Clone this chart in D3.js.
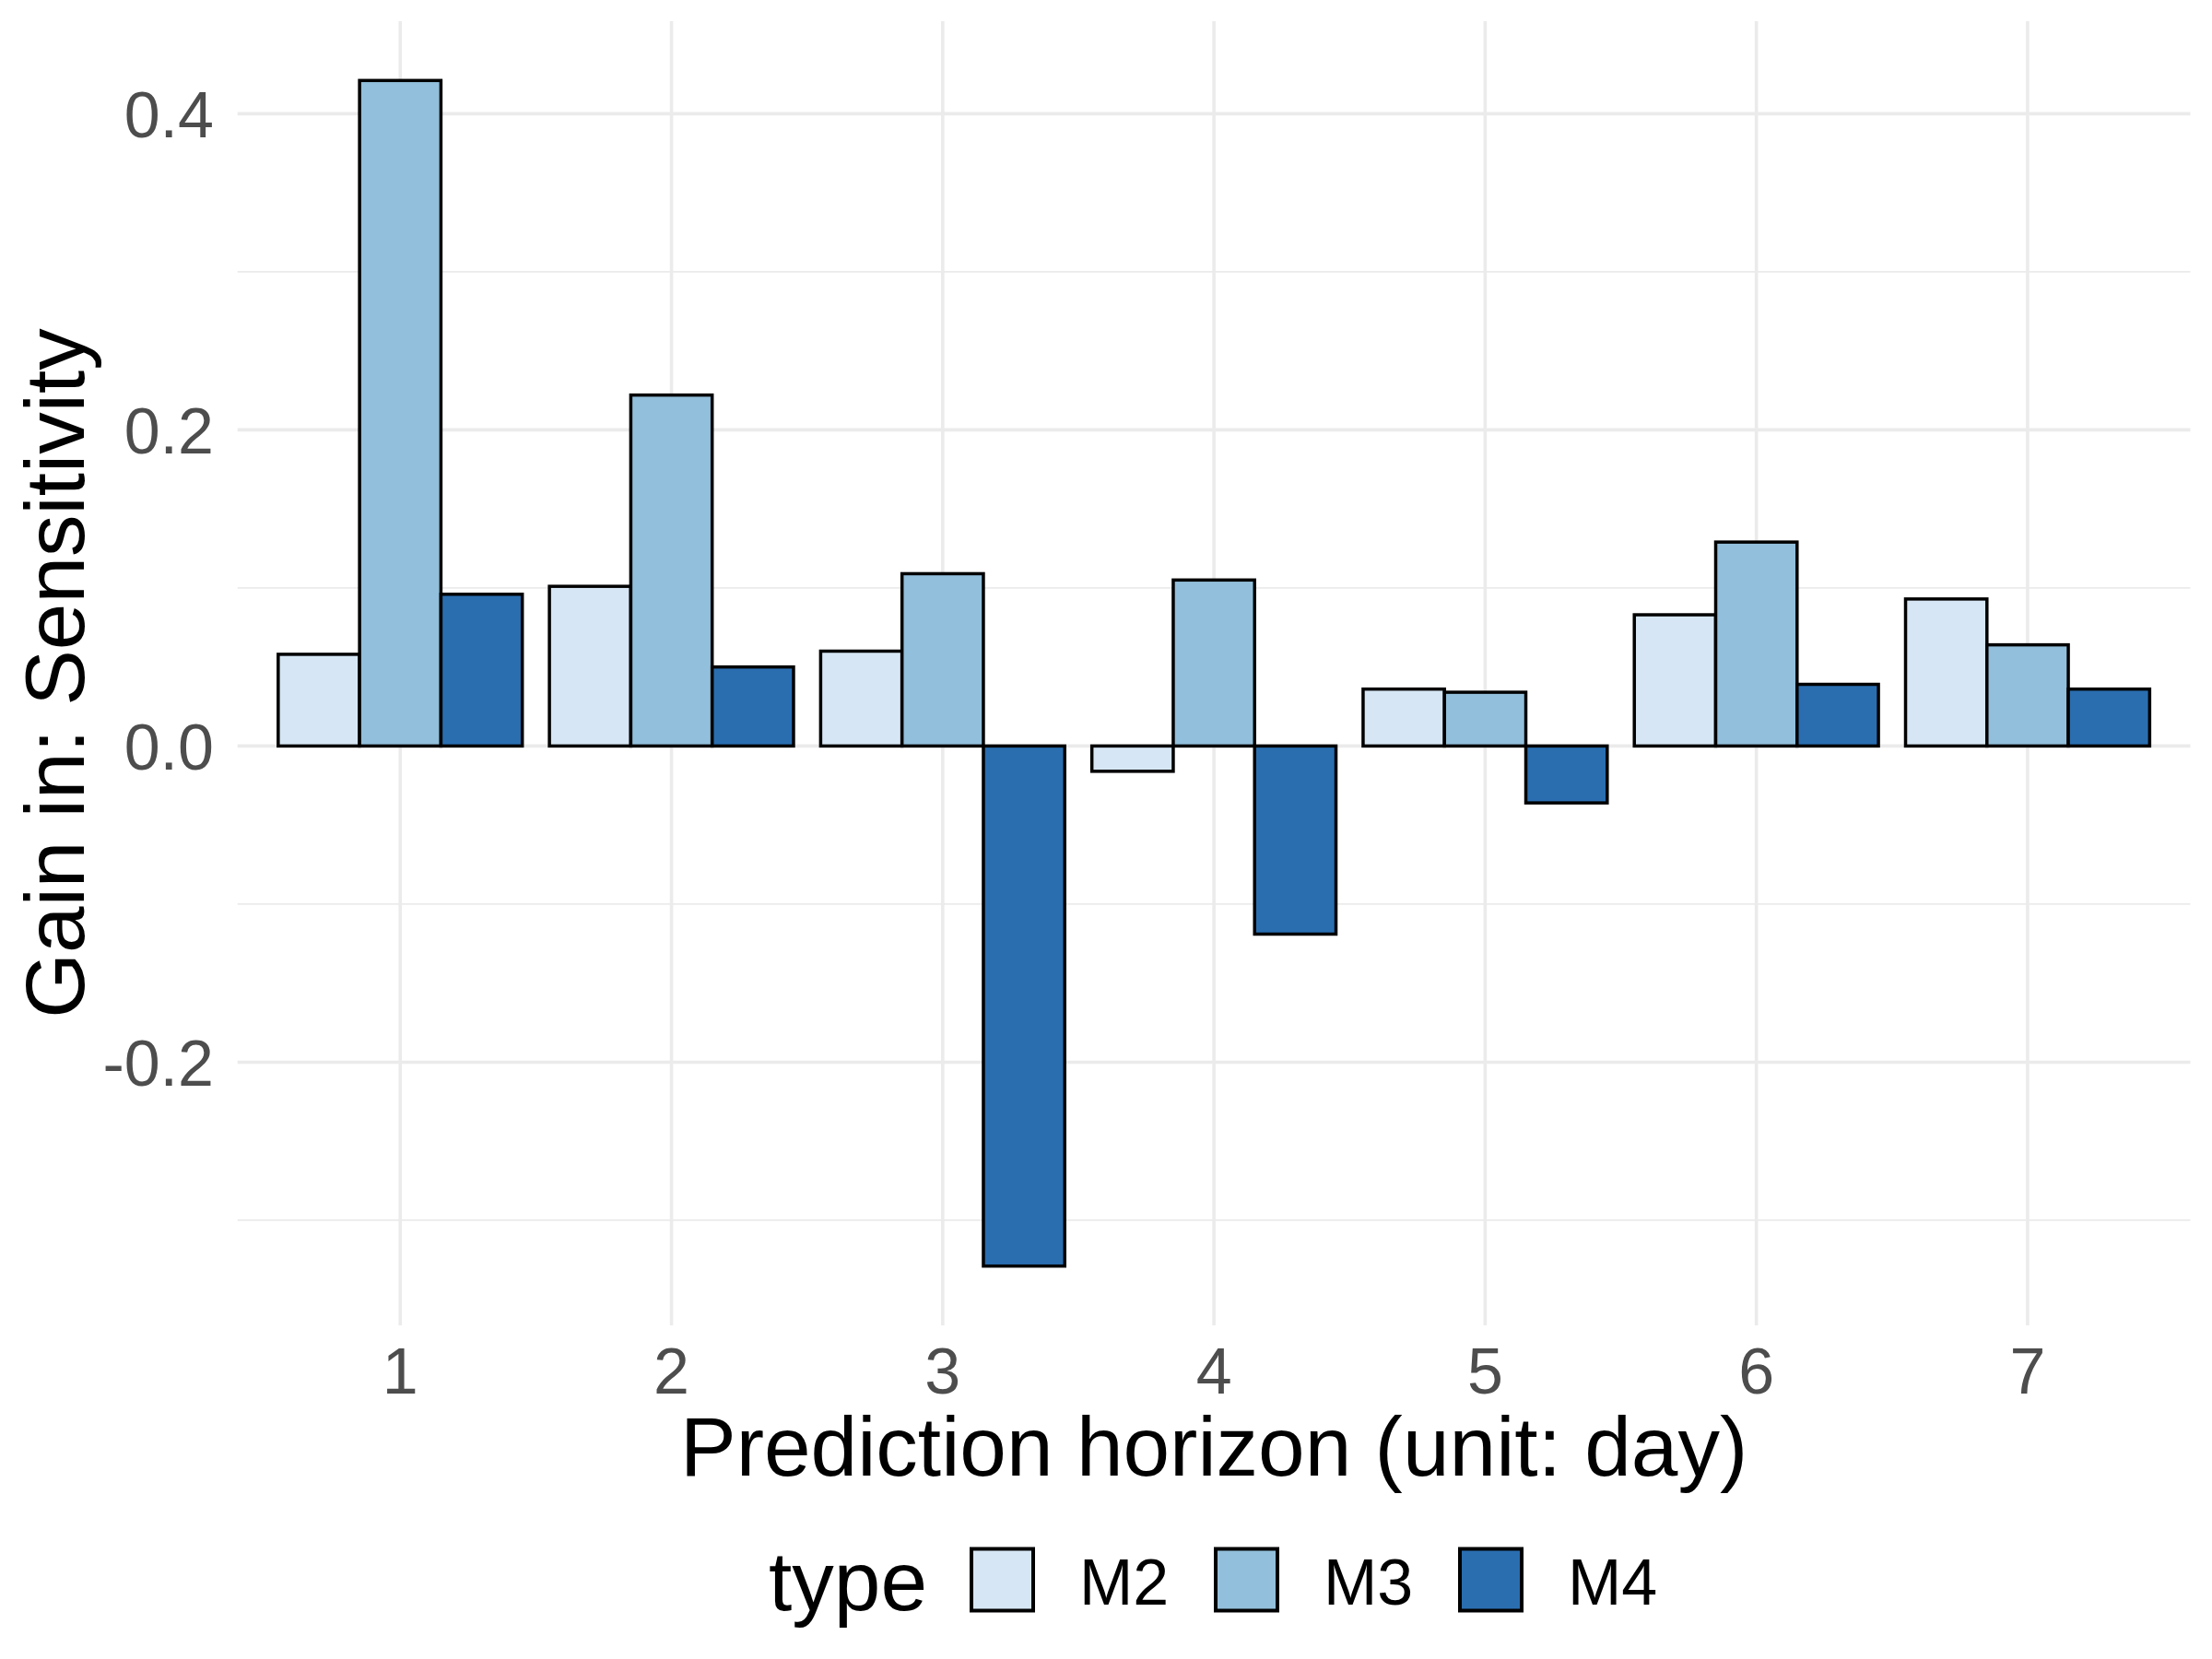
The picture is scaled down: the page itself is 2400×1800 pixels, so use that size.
<!DOCTYPE html>
<html>
<head>
<meta charset="UTF-8">
<title>Gain in: Sensitivity</title>
<script src="https://cdnjs.cloudflare.com/ajax/libs/d3/7.8.5/d3.min.js"></script>
<style>
  body { margin: 0; background: #fff; }
  text { font-family: "Liberation Sans", Arial, Helvetica, sans-serif; }
</style>
</head>
<body>
<div id="chart"></div>
<script>
var horizons = ["1", "2", "3", "4", "5", "6", "7"];
var types = ["M2", "M3", "M4"];
var m2 = [0.058, 0.101, 0.060, -0.016, 0.036, 0.083, 0.093];
var m3 = [0.421, 0.222, 0.109, 0.105, 0.034, 0.129, 0.064];
var m4 = [0.096, 0.050, -0.329, -0.119, -0.036, 0.039, 0.036];
var yMajor = [-0.2, 0, 0.2, 0.4];
var yMinor = [-0.3, -0.1, 0.1, 0.3];
var yTickLabels = ["-0.2", "0.0", "0.2", "0.4"];
var colors = ["#d6e6f4", "#92bfdb", "#2a6eb0"];

var w = 2400,
    h = 1800,
    panel = { left: 257.7, right: 2376.5, top: 23, bottom: 1438 },
    grid = "#ebebeb";

var series = [m2, m3, m4];
var rows = [];
horizons.forEach(function(hz, i) {
    types.forEach(function(t, k) {
        rows.push({ horizon: hz, type: t, value: series[k][i] });
    });
});

// ggplot style range: data range plus 5% each side
var allVals = m2.concat(m3, m4);
var lo = d3.min(allVals), hi = d3.max(allVals), pad = (hi - lo) * 0.05;

var x = d3.scaleBand()
    .domain(horizons)
    .range([panel.left, panel.right])
    .paddingInner(0.1)
    .paddingOuter(0.15);

var xInner = d3.scaleBand()
    .domain(types)
    .range([0, x.bandwidth()]);

var y = d3.scaleLinear()
    .domain([lo - pad, hi + pad])
    .range([panel.bottom, panel.top]);

var fill = d3.scaleOrdinal().domain(types).range(colors);

var svg = d3.select("#chart").append("svg")
    .attr("width", w)
    .attr("height", h);

// grid
svg.append("g").selectAll("line")
    .data(yMinor).enter().append("line")
    .attr("x1", panel.left).attr("x2", panel.right)
    .attr("y1", d => y(d)).attr("y2", d => y(d))
    .attr("stroke", grid).attr("stroke-width", 1.8);

svg.append("g").selectAll("line")
    .data(yMajor).enter().append("line")
    .attr("x1", panel.left).attr("x2", panel.right)
    .attr("y1", d => y(d)).attr("y2", d => y(d))
    .attr("stroke", grid).attr("stroke-width", 3.6);

svg.append("g").selectAll("line")
    .data(horizons).enter().append("line")
    .attr("x1", d => x(d) + x.bandwidth() / 2).attr("x2", d => x(d) + x.bandwidth() / 2)
    .attr("y1", panel.top).attr("y2", panel.bottom)
    .attr("stroke", grid).attr("stroke-width", 3.6);

// bars
svg.append("g").selectAll("rect")
    .data(rows).enter().append("rect")
    .attr("x", d => x(d.horizon) + xInner(d.type))
    .attr("width", xInner.bandwidth())
    .attr("y", d => y(Math.max(0, d.value)))
    .attr("height", d => Math.abs(y(d.value) - y(0)))
    .attr("fill", d => fill(d.type))
    .attr("stroke", "#000")
    .attr("stroke-width", 3.5);

// axes text
svg.append("g").selectAll("text")
    .data(yMajor).enter().append("text")
    .attr("x", 232)
    .attr("y", d => y(d))
    .attr("dy", "0.36em")
    .attr("text-anchor", "end")
    .attr("font-size", 70)
    .attr("fill", "#4d4d4d")
    .text((d, i) => yTickLabels[i]);

svg.append("g").selectAll("text")
    .data(horizons).enter().append("text")
    .attr("x", d => x(d) + x.bandwidth() / 2)
    .attr("y", 1512)
    .attr("text-anchor", "middle")
    .attr("font-size", 70)
    .attr("fill", "#4d4d4d")
    .text(d => d);

svg.append("text")
    .attr("x", (panel.left + panel.right) / 2)
    .attr("y", 1601)
    .attr("text-anchor", "middle")
    .attr("font-size", 91)
    .attr("fill", "#000")
    .text("Prediction horizon (unit: day)");

svg.append("text")
    .attr("transform", "translate(91," + (panel.top + panel.bottom) / 2 + ") rotate(-90)")
    .attr("text-anchor", "middle")
    .attr("font-size", 91)
    .attr("fill", "#000")
    .text("Gain in: Sensitivity");

// legend
var legend = svg.append("g");
legend.append("text")
    .attr("x", 834)
    .attr("y", 1747)
    .attr("font-size", 91)
    .attr("fill", "#000")
    .text("type");

var keys = legend.selectAll("g.key")
    .data(types).enter().append("g")
    .attr("class", "key")
    .attr("transform", (d, i) => "translate(" + (1054 + i * 265) + ",1680.5)");

keys.append("rect")
    .attr("width", 67)
    .attr("height", 67)
    .attr("fill", d => fill(d))
    .attr("stroke", "#000")
    .attr("stroke-width", 4);

keys.append("text")
    .attr("x", 117)
    .attr("y", 60.5)
    .attr("font-size", 70)
    .attr("fill", "#000")
    .text(d => d);
</script>
</body>
</html>
